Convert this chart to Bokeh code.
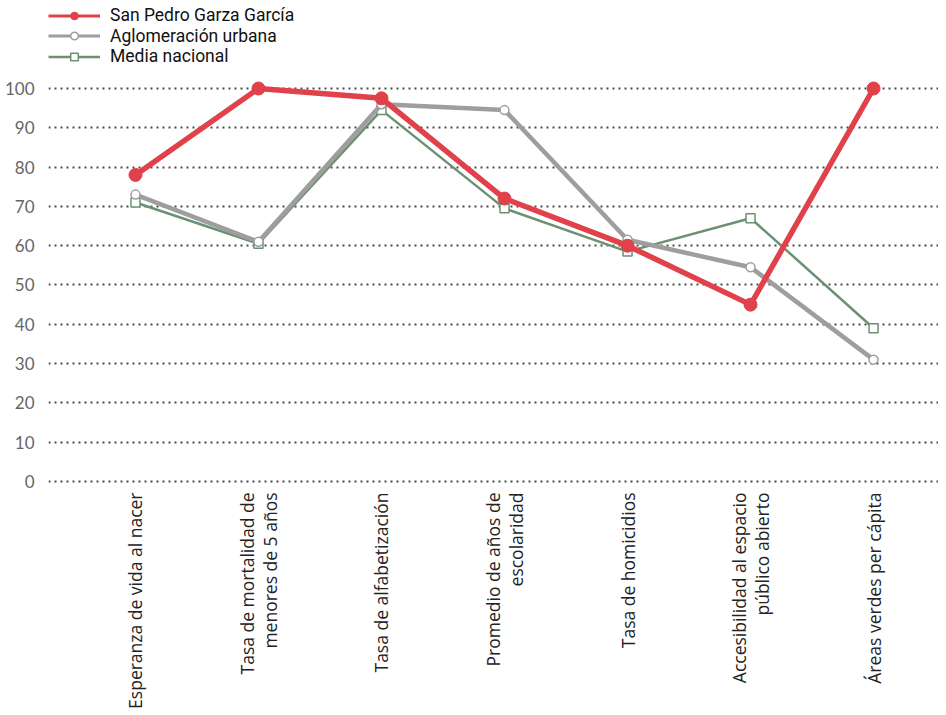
from bokeh.plotting import figure
from bokeh.models import Range1d, FixedTicker, Legend, LegendItem
from bokeh.embed import file_html
from bokeh.resources import INLINE

categories = [
    "Esperanza de vida al nacer",
    "Tasa de mortalidad de\nmenores de 5 años",
    "Tasa de alfabetización",
    "Promedio de años de\nescolaridad",
    "Tasa de homicidios",
    "Accesibilidad al espacio\npúblico abierto",
    "Áreas verdes per cápita",
]
series_names = ["San Pedro Garza García", "Aglomeración urbana", "Media nacional"]
san_pedro = [78, 100, 97.5, 72, 60, 45, 100]
aglomeracion = [73, 61, 96, 94.5, 61.5, 54.5, 31]
media_nacional = [71, 60.5, 94.5, 69.5, 58.5, 67, 39]
y_ticks = [0, 10, 20, 30, 40, 50, 60, 70, 80, 90, 100]

xs = list(range(len(categories)))

W, H = 938, 715
TOP = 0
BOTTOM = 230
p = figure(width=W, height=H, output_backend="svg", toolbar_location=None,
           x_range=Range1d(-0.707, 6.528), y_range=Range1d(-1.02, 122.39),
           min_border_left=48, min_border_right=0, min_border_top=TOP,
           min_border_bottom=BOTTOM)
p.outline_line_color = None
p.background_fill_color = "white"

# axes
p.xaxis.ticker = FixedTicker(ticks=xs)
p.xaxis.major_label_overrides = {i: c for i, c in enumerate(categories)}
p.xaxis.major_label_orientation = 3.14159265 / 2
p.xaxis.axis_line_color = None
p.xaxis.major_tick_line_color = None
p.xaxis.minor_tick_line_color = None
p.xaxis.major_label_text_font = "Open Sans"
p.xaxis.major_label_text_font_size = "17.5px"
p.xaxis.major_label_text_color = "#222222"
p.xaxis.major_label_text_line_height = 0.98
p.xaxis.major_label_standoff = 1

p.yaxis.ticker = FixedTicker(ticks=y_ticks)
p.yaxis.axis_line_color = None
p.yaxis.major_tick_line_color = None
p.yaxis.minor_tick_line_color = None
p.yaxis.major_label_text_font = "Lato"
p.yaxis.major_label_text_font_size = "17px"
p.yaxis.major_label_text_color = "#666666"
p.yaxis.major_label_standoff = 8

p.xgrid.grid_line_color = None
p.ygrid.ticker = FixedTicker(ticks=y_ticks)
p.ygrid.grid_line_color = "#4a4a4a"
p.ygrid.grid_line_width = 2
p.ygrid.grid_line_dash = "2 4"

RED = "#E0414A"
GRAY = "#9E9E9E"
GREEN = "#6C9172"

p.line(xs, media_nacional, line_color=GREEN, line_width=2.5)
p.scatter(xs, media_nacional, marker="square", size=9, fill_color="white",
          line_color=GREEN, line_width=1.5)
p.line(xs, aglomeracion, line_color=GRAY, line_width=4.5)
p.scatter(xs, aglomeracion, marker="circle", size=9, fill_color="white",
          line_color=GRAY, line_width=1.5)
p.line(xs, san_pedro, line_color=RED, line_width=5.5)
p.scatter(xs, san_pedro, marker="circle", size=13, fill_color=RED,
          line_color=RED)

# legend-only glyphs (thinner, as in the reference key); NaN data is not drawn in the plot
nan = float("nan")
k1l = p.line(x=[nan], y=[nan], line_color=RED, line_width=3)
k1m = p.scatter(x=[nan], y=[nan], marker="circle", size=10, fill_color=RED, line_color=RED)
k2l = p.line(x=[nan], y=[nan], line_color=GRAY, line_width=3)
k2m = p.scatter(x=[nan], y=[nan], marker="circle", size=8, fill_color="white",
                line_color=GRAY, line_width=1.5)
k3l = p.line(x=[nan], y=[nan], line_color=GREEN, line_width=2.5)
k3m = p.scatter(x=[nan], y=[nan], marker="square", size=8, fill_color="white",
                line_color=GREEN, line_width=1.5)

frame_h = H - BOTTOM - TOP
row_offsets = [25.25, 45.75, 66.25]
for name, rends, off in zip(series_names, [[k1l, k1m], [k2l, k2m], [k3l, k3m]], row_offsets):
    lg = Legend(items=[LegendItem(label=name, renderers=rends)])
    lg.location = (0, frame_h - off)
    lg.orientation = "vertical"
    lg.padding = 0
    lg.margin = 0
    lg.spacing = 0
    lg.glyph_width = 52
    lg.glyph_height = 19
    lg.label_height = 19
    lg.label_standoff = 10
    lg.label_text_font = "Roboto"
    lg.label_text_font_size = "17.5px"
    lg.label_text_color = "#111111"
    lg.border_line_color = None
    lg.background_fill_alpha = 0
    p.add_layout(lg, "center")

open("out.html", "w").write(file_html(p, INLINE))
